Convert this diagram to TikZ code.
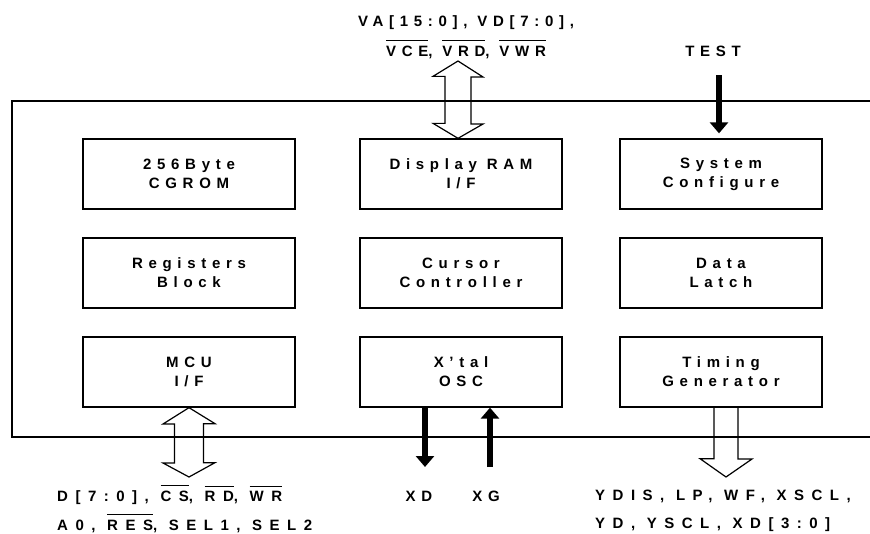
\documentclass[tikz,border=0pt]{standalone}
\usepackage{fontspec}
\setmainfont{Liberation Sans}[LetterSpace=38]
\newfontfamily\widefont{Liberation Sans}[LetterSpace=50]
\usetikzlibrary{arrows.meta,calc}

\newcommand\notsig[1]{\leavevmode\vbox{\hrule height 1pt\kern 5pt\hbox{#1}}}

\tikzset{
  blk/.style={draw, line width=1.3pt, minimum width=202pt, minimum height=70pt,
    align=center, font=\bfseries\fontsize{15}{19}\selectfont},
  sig/.style={inner sep=0pt, font=\bfseries\fontsize{15}{30}\selectfont},
  widesig/.style={sig, align=left, anchor=west, font=\widefont\bfseries\fontsize{15}{28.5}\selectfont},
  hollow/.style={draw, line width=1.2pt, line join=miter},
  wire/.style={line width=5.5pt, -{Triangle[width=18pt,length=11pt]}},
}

\begin{document}
\begin{tikzpicture}[x=1pt, y=-1pt]
\useasboundingbox (0,0) rectangle (870,533);
\draw[line width=1.3pt] (870,101) -| (12,437) -- (870,437);

\node[blk, minimum width=212pt] (cgrom) at (189,174) {256Byte\\CGROM};
\node[blk] (dram) at (461,174) {Display RAM\\I/F};
\node[blk] (sys) at (721,174) {System\\Configure};
\node[blk, minimum width=212pt] (reg) at (189,273) {Registers\\Block};
\node[blk] (cur) at (461,273) {Cursor\\Controller};
\node[blk] (latch) at (721,273) {Data\\Latch};
\node[blk, minimum width=212pt] (mcu) at (189,372) {MCU\\I/F};
\node[blk] (osc) at (461,372) {X'tal\\OSC};
\node[blk] (tim) at (721,372) {Timing\\Generator};

\node[sig, align=center] (vbus) at (466,37) {VA[15:0], VD[7:0],\\\notsig{VCE}, \notsig{VRD}, \notsig{VWR}};
\node[sig] (test) at (713,51) {TEST};
\node[widesig] (mbus) at (57,509)
  {D[7:0], \notsig{CS}, \notsig{RD}, \notsig{WR}\\A0, \notsig{RES}, SEL1, SEL2};
\node[sig] (xd) at (419,496) {XD};
\node[sig] (xg) at (486,496) {XG};
\node[widesig] (dbus) at (595,511)
  {YDIS, LP, WF, XSCL,\\YD, YSCL, XD[3:0]};

% buses
\coordinate (vtip) at (458,61);
\draw[hollow] (vtip) -- ++(25,16) -- ++(-12,0) -- ++(0,47) -- ++(12,0)
  -- ($(dram.north)+(-3,0)$) -- ++(-25,-15) -- ++(12,0) -- ++(0,-47) -- ++(-12,0) -- cycle;
\coordinate (mtip) at (189,477);
\draw[hollow] (mcu.south) -- ++(26,16) -- ++(-11.5,0) -- ++(0,39) -- ++(11.5,0)
  -- (mtip) -- ++(-26,-14) -- ++(11.5,0) -- ++(0,-39) -- ++(-11.5,0) -- cycle;
\coordinate (dtip) at (726,477);
\draw[hollow] ($(tim.south)+(-7,0)$) -- ++(0,51) -- ++(-14,0) -- (dtip)
  -- ++(26,-18) -- ++(-14,0) -- ++(0,-51);

% single lines
\coordinate (xdend) at (425,467);
\coordinate (xgend) at (490,467);
\coordinate (testtop) at (719,75);
\draw[wire] ($(osc.south)+(-36,0)$) -- (xdend);
\draw[wire] (xgend) -- ($(osc.south)+(29,0)$);
\draw[wire] (testtop) -- ($(sys.north)+(-2,-5)$);
\end{tikzpicture}
\end{document}
